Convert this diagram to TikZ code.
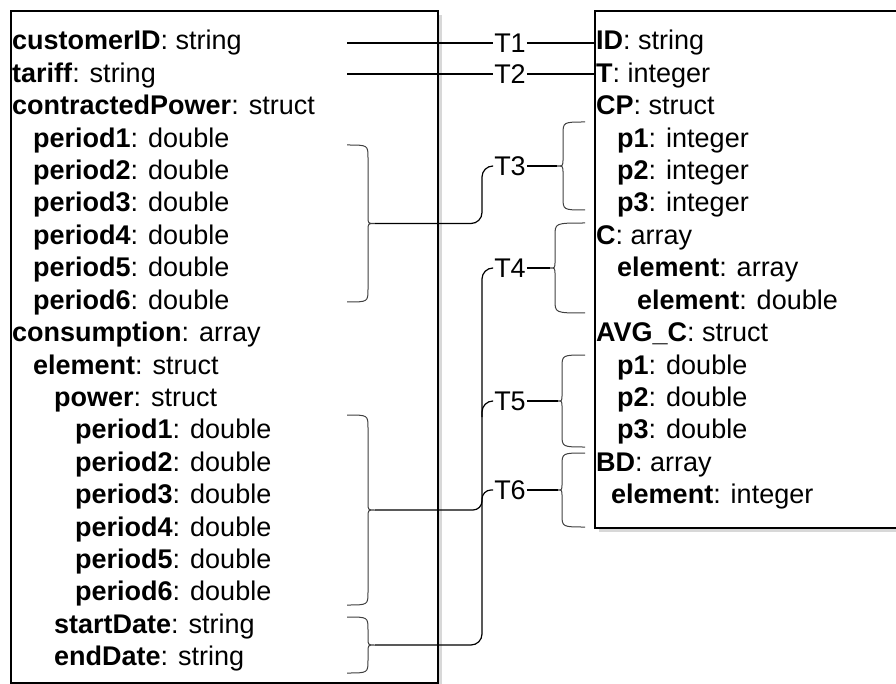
\documentclass[tikz,border=0pt]{standalone}
\usepackage{fontspec}
\setmainfont{Liberation Sans}
\usetikzlibrary{calc,shadows}

% curly brace: x of ends, x of back, x of tip, y top, y bottom, name of tip
\newcommand{\fieldbrace}[6]{%
  \draw[brace] (#1,#4) .. controls (#2,#4) .. (#2,{#4+13})
    -- (#2,{(#4+#5)/2-7}) .. controls (#2,{(#4+#5)/2}) .. (#3,{(#4+#5)/2})
    .. controls (#2,{(#4+#5)/2}) .. (#2,{(#4+#5)/2+7})
    -- (#2,{#5-13}) .. controls (#2,#5) .. (#1,#5);
  \coordinate (#6) at (#3,{(#4+#5)/2});}

\begin{document}
\begin{tikzpicture}[x=1pt, y=-1pt,
    box/.style={draw, fill=white, line width=1.6pt, inner sep=0pt, anchor=north west,
      drop shadow={shadow xshift=4pt, shadow yshift=-4pt, fill=black!30}},
    row/.style={anchor=base west, inner sep=0pt, font=\fontsize{27}{30}\selectfont},
    tag/.style={inner sep=1pt, font=\fontsize{27}{30}\selectfont},
    brace/.style={line width=1pt, black!75},
    link/.style={line width=1.2pt, rounded corners=11pt}]
    \clip (0,0) rectangle (896,684);

    % Left side: source schema
    \node[box, minimum width=427pt, minimum height=672pt] (src) at (10,10) {};
    \node[row] (l1) at (12,50) {\textbf{customerID}: string};
    \node[row] (l2) at (12,82.4) {\textbf{tariff}: string};
    \node[row] (l3) at (12,114.8) {\textbf{contractedPower}: struct};
    \node[row] (l4) at (33,147.2) {\textbf{period1}: double};
    \node[row] (l5) at (33,179.6) {\textbf{period2}: double};
    \node[row] (l6) at (33,212) {\textbf{period3}: double};
    \node[row] (l7) at (33,244.4) {\textbf{period4}: double};
    \node[row] (l8) at (33,276.8) {\textbf{period5}: double};
    \node[row] (l9) at (33,309.2) {\textbf{period6}: double};
    \node[row] (l10) at (12,341.6) {\textbf{consumption}: array};
    \node[row] (l11) at (33,374) {\textbf{element}: struct};
    \node[row] (l12) at (54,406.4) {\textbf{power}: struct};
    \node[row] (l13) at (75,438.8) {\textbf{period1}: double};
    \node[row] (l14) at (75,471.2) {\textbf{period2}: double};
    \node[row] (l15) at (75,503.6) {\textbf{period3}: double};
    \node[row] (l16) at (75,536) {\textbf{period4}: double};
    \node[row] (l17) at (75,568.4) {\textbf{period5}: double};
    \node[row] (l18) at (75,600.8) {\textbf{period6}: double};
    \node[row] (l19) at (54,633.2) {\textbf{startDate}: string};
    \node[row] (l20) at (54,665.6) {\textbf{endDate}: string};

    % Right side: target schema
    \node[box, minimum width=330pt, minimum height=517pt] (dst) at (594,10) {};
    \node[row] (r1) at (596,50) {\textbf{ID}: string};
    \node[row] (r2) at (596,82.4) {\textbf{T}: integer};
    \node[row] (r3) at (596,114.8) {\textbf{CP}: struct};
    \node[row] (r4) at (617,147.2) {\textbf{p1}: integer};
    \node[row] (r5) at (617,179.6) {\textbf{p2}: integer};
    \node[row] (r6) at (617,212) {\textbf{p3}: integer};
    \node[row] (r7) at (596,244.4) {\textbf{C}: array};
    \node[row] (r8) at (617,276.8) {\textbf{element}: array};
    \node[row] (r9) at (637,309.2) {\textbf{element}: double};
    \node[row] (r10) at (596,341.6) {\textbf{AVG\_C}: struct};
    \node[row] (r11) at (617,374) {\textbf{p1}: double};
    \node[row] (r12) at (617,406.4) {\textbf{p2}: double};
    \node[row] (r13) at (617,438.8) {\textbf{p3}: double};
    \node[row] (r14) at (596,471.2) {\textbf{BD}: array};
    \node[row] (r15) at (611,503.6) {\textbf{element}: integer};

    % Braces
    \fieldbrace{347}{368}{375}{145}{302}{lbA}
    \fieldbrace{347}{368}{375}{415}{605}{lbB}
    \fieldbrace{347}{368}{375}{617}{673}{lbC}
    \fieldbrace{585}{563}{557}{122}{210}{rb3}
    \fieldbrace{585}{555}{550}{223}{313}{rb4}
    \fieldbrace{585}{562}{558}{355}{447}{rb5}
    \fieldbrace{585}{562}{558}{453}{527}{rb6}

    % Transformations
    \node[tag] (t1) at (510,43) {T1};
    \node[tag] (t2) at (510,74) {T2};
    \node[tag] (t3) at (510,166) {T3};
    \node[tag] (t4) at (510,268) {T4};
    \node[tag] (t5) at (510,401) {T5};
    \node[tag] (t6) at (510,490) {T6};
    \coordinate (s1) at (347,43);
    \coordinate (s2) at (347,74);
    \coordinate (bus) at (482,0);

    \draw[link] (s1) -- (t1);
    \draw[link] (t1) -- (t1 -| dst.west);
    \draw[link] (s2) -- (t2);
    \draw[link] (t2) -- (t2 -| dst.west);
    \draw[link] (lbA) -| (bus |- t3.west) -- (t3.west);
    \draw[link] (t3) -- (rb3);
    \draw[link] (lbC) -| (bus |- t4.west) -- (t4.west);
    \draw[link] (t4) -- (rb4);
    \draw[link] ($(bus |- t5.west)+(0,16)$) |- (t5.west);
    \draw[link] (t5) -- (rb5);
    \draw[link, rounded corners=9pt] (lbB) -| (bus |- t6.west) -- (t6.west);
    \draw[link] (t6) -- (rb6);
\end{tikzpicture}
\end{document}
